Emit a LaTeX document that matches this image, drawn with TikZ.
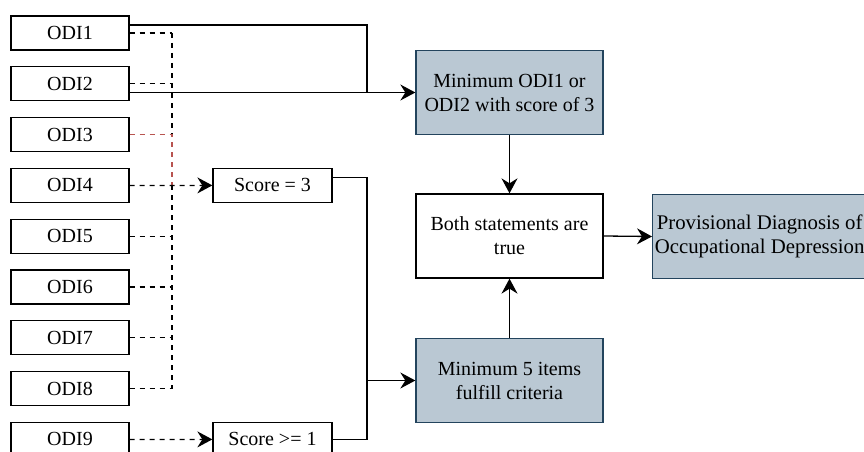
\documentclass[tikz,border=0pt]{standalone}
\usepackage{fontspec}
\setmainfont{Liberation Serif}
\newfontfamily\figfont{Liberation Serif}
\usetikzlibrary{arrows.meta}
\definecolor{slatefill}{HTML}{BAC8D3}
\definecolor{slateline}{HTML}{23445D}
\definecolor{redline}{HTML}{B85450}
\begin{document}
\begin{tikzpicture}[x=1pt, y=-1pt,
  font=\figfont\fontsize{20}{24}\selectfont,
  item/.style={draw, line width=1.3pt, minimum width=118pt, minimum height=34pt, inner sep=0pt},
  plainbox/.style={draw, line width=1.3pt, minimum width=187pt, minimum height=84pt, inner sep=0pt, align=center},
  slatebox/.style={plainbox, fill=slatefill, draw=slateline},
  sline/.style={line width=1.3pt},
  dline/.style={line width=1.3pt, dash pattern=on 5pt off 5pt},
  rline/.style={dline, draw=redline},
  arr/.style={-{Stealth[length=15pt, width=16pt, inset=5pt]}}]
\useasboundingbox (0,0) rectangle (864,452);

% item boxes ODI1 ... ODI9
\foreach \k in {1,...,9}
  \node[item] (o\k) at (70, {33+50.8*(\k-1)}) {ODI\k};

% threshold boxes
\node[item, minimum width=119pt] (s3) at (272.5,185.4) {Score = 3};
\node[item, minimum width=119pt] (s1) at (272.5,439.4) {Score >= 1};

% criteria and result boxes
\node[slatebox] (mtop) at (509.5,92.5) {Minimum ODI1 or\\ODI2 with score of 3};
\node[plainbox] (both) at (509.5,236) {Both statements are\\true};
\node[slatebox] (m5) at (509.5,380.5) {Minimum 5 items\\fulfill criteria};
\node[slatebox, minimum width=228pt, anchor=west,
  label={[xshift=-7pt, align=center, font=\figfont\fontsize{20.8}{24}\selectfont]center:{Provisional Diagnosis of\\Occupational Depression}}]
  (prov) at (652,236.5) {};

% junction points
\coordinate (jn) at (172,185.4);
\coordinate (j1) at (367,92.5);
\coordinate (j2) at (367,380.5);

% dashed feeds into "Score = 3"
\foreach \k in {1,2,5,6,7,8}
  \draw[dline] (o\k.east) -- (o\k.east -| jn);
\draw[dline] (o1.east -| jn) -- (o3.east -| jn);
\draw[dline] (jn) -- (o8.east -| jn);
\draw[rline] (o3.east) -- (o3.east -| jn) -- (jn);
\draw[dline, arr] (o4.east) -- (s3.west);
\draw[dline, arr] (o9.east) -- (s1.west);

% solid feeds into the ODI1/ODI2 criterion
\draw[sline] ([yshift=8pt]o1.east) -| (j1);
\draw[sline, arr] (o2.east |- mtop.west) -- (mtop.west);

% score results into the five-item criterion
\draw[sline] ([yshift=8pt]s3.east) -| (j2);
\draw[sline] (s1.east) -| (j2);
\draw[sline, arr] (j2) -- (m5.west);

% combination and diagnosis
\draw[sline, arr] (mtop.south) -- (both.north);
\draw[sline, arr] (m5.north) -- (both.south);
\draw[sline, arr] (both.east) -- (prov.west);
\end{tikzpicture}
\end{document}
